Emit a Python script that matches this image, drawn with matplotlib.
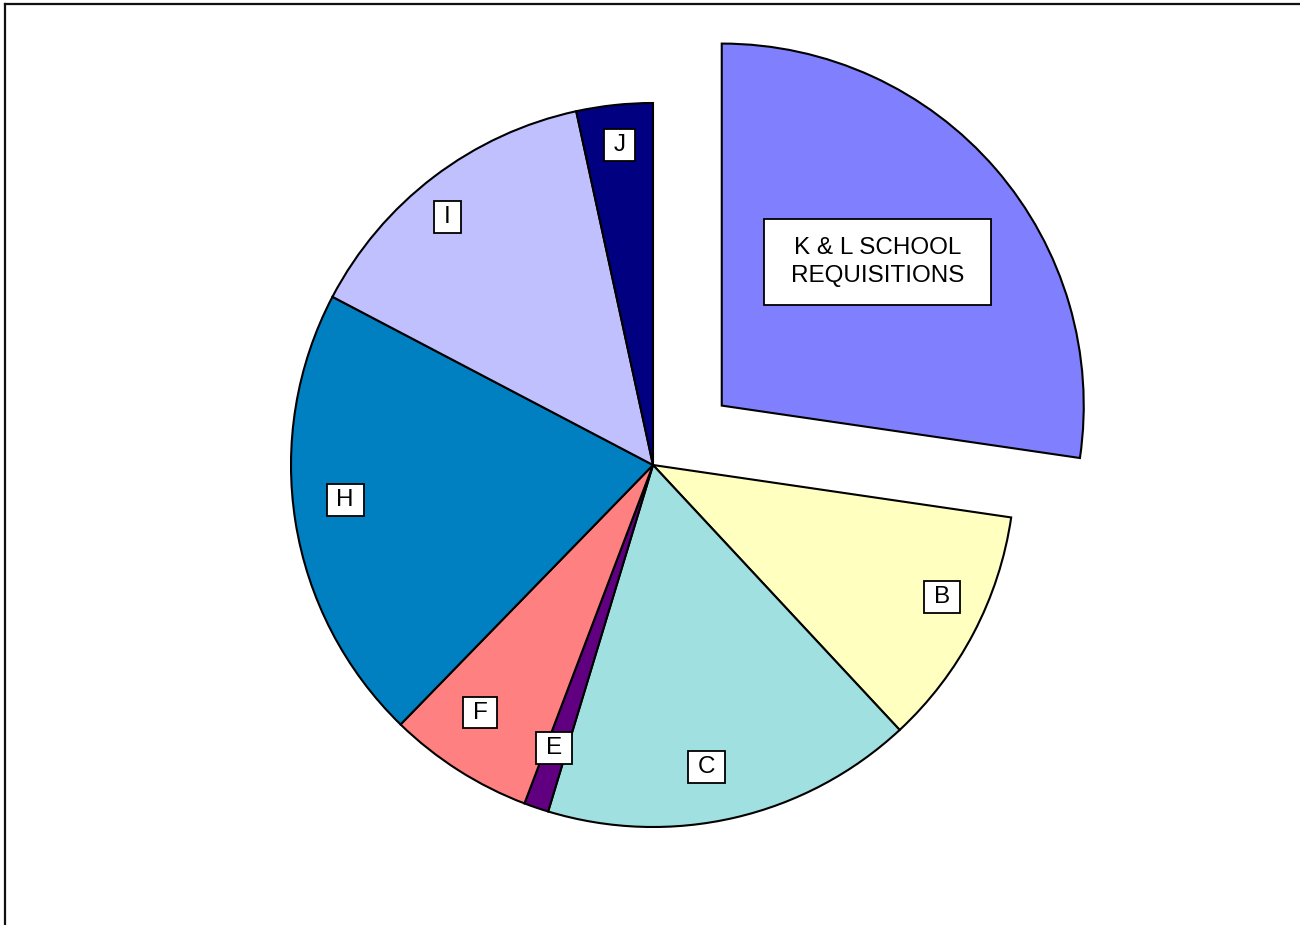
import matplotlib
matplotlib.use("Agg")
import matplotlib.pyplot as plt
from matplotlib.path import Path
from matplotlib.lines import Line2D
import numpy as np

plt.rcParams['font.family'] = ['Liberation Sans', 'DejaVu Sans']

# ---- data ----
categories = ["K & L SCHOOL\nREQUISITIONS", "B", "C", "E", "F", "H", "I", "J"]
values = [27.3, 10.75, 16.6, 1.1, 6.5, 20.4, 13.9, 3.4]
colors = ["#8080FF", "#FFFFC0", "#A0E0E0", "#600080", "#FF8080", "#0080C0", "#C0C0FF", "#000080"]
explode_frac = [0.251, 0, 0, 0, 0, 0, 0, 0]

# ---- label layout (fraction of radius, angle offset from wedge middle, box padding) ----
label_frac = [0.585, 0.878, 0.848, 0.829, 0.834, 0.856, 0.889, 0.889]
label_dang = [1.9, 3.2, -3.0, -0.5, -2.4, -2.5, 2.4, -0.1]
box_pad = [(1.1, 0.72), (0.4, 0.2), (0.4, 0.2), (0.4, 0.2), (0.4, 0.2), (0.4, 0.2), (0.4, 0.2), (0.4, 0.2)]

W, H = 1300, 925
fig = plt.figure(figsize=(W / 100, H / 100), dpi=100)
ax = fig.add_axes([0, 0, 1, 1])

R = 362
wedges, _ = ax.pie(values, colors=colors, explode=[e * R for e in explode_frac],
                   startangle=90, counterclock=False, radius=R, center=(653, H - 465),
                   wedgeprops=dict(edgecolor="black", linewidth=1.5))
ax.set_xlim(0, W)
ax.set_ylim(0, H)
ax.set_aspect('auto')
ax.axis('off')


def make_box(padx, pady):
    def box(x0, y0, width, height, mutation_size):
        px = padx * mutation_size
        py = pady * mutation_size
        xa, ya = x0 - px, y0 - py
        xb, yb = x0 + width + px, y0 + height + py
        return Path([(xa, ya), (xb, ya), (xb, yb), (xa, yb), (xa, ya)], closed=True)
    return box


for w, lab, fr, da, (px, py) in zip(wedges, categories, label_frac, label_dang, box_pad):
    cx, cy = w.center
    th = np.deg2rad((w.theta1 + w.theta2) / 2 + da)
    x = cx + fr * w.r * np.cos(th)
    y = cy + fr * w.r * np.sin(th)
    ax.text(x, y, lab, ha="center", va="center", fontsize=17.5, linespacing=1.37,
            multialignment="center",
            bbox=dict(boxstyle=make_box(px, py), facecolor="white", edgecolor="black", linewidth=1.3))

# outer frame (top and left visible)
ax.add_line(Line2D([4.5, W + 5], [H - 3.5, H - 3.5], color="#111111", linewidth=1.6))
ax.add_line(Line2D([4.5, 4.5], [-5, H - 3.5], color="#111111", linewidth=1.6))

fig.savefig("out.png", dpi=100, facecolor="white")
